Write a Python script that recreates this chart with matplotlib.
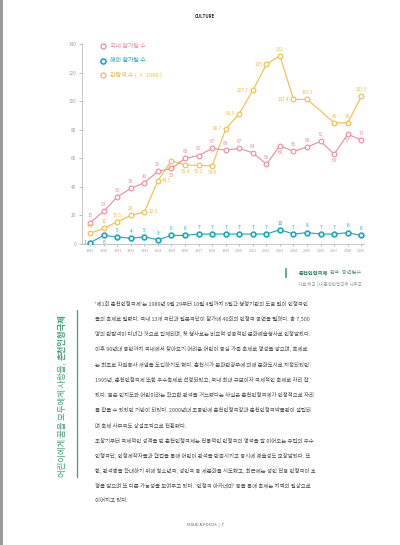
import matplotlib
matplotlib.use("Agg")

import matplotlib.pyplot as plt

plt.rcParams["font.family"] = ["Noto Sans CJK KR", "DejaVu Sans"]

# ── Data ─────────────────────────────────────────────────────────────
years = list(range(1989, 2010))
domestic = [15, 23, 33, 39, 43, 51, 53, 60, 62, 67, 66, 67, 64, 56, 69, 65, 68, 72, 63, 77, 73]
foreign = [1, 6, 5, 4, 5, 3, 6, 6, 7, 7, 7, 7, 7, 7, 10, 7, 8, 7, 7, 8, 6]
audience = [7.5, 11, 15.5, 20, 22.5, 44.5, 58.5, 55.4, 55.2, 54.8, 80.7, 91.5,
            107.7, 126, 132, 101.4, 101.5, None, 85, 85, 103.5]

series_names = ["국내 참가팀 수", "해외 참가팀 수", "관람객 수 ( × 1000 )"]
y_ticks = [0, 20, 40, 60, 80, 100, 120, 140]

# label placement per point: a = above, b = below, l = left, r = right
dom_pos = "aaaaaabaaaaaaabaaabba"
for_pos = "lbaaaaaaaaaaaaaaaaaaa"
aud_pos = "aaaarrbbbbllllalaxaaa"

body_lines = [
    "'제1회 춘천인형극제'는 1989년 9월 29부터 10월 4일까지 6일간 행정기관의 도움 없이 인형극인",
    "들의 축제로 열렸다. 국내 13개 극단과 일본극단이 참가해 40회의 인형극 공연을 펼쳤다. 총 7,500",
    "명의 관람객이 다녀간 것으로 집계되며, 첫 행사로는 비교적 성공적인 문화예술행사로 인정받았다.",
    "이후 90년대 중반까지 국내에서 찾아보기 어려운 어린이 중심 가족 축제로 명성을 쌓으며, 축제로",
    "는 최초로 자원봉사 개념을 도입하기도 했다. 춘천시가 문화관광부에 의해 문화도시로 지정되었던",
    "1995년, 춘천인형극제 또한 우수축제로 선정되었고, 국내 최대 규모이자 국제적인 축제로 자리 잡",
    "았다. 높은 인지도와 어린이라는 확고한 관객을 거느렸다는 사실은 춘천인형극제가 안정적으로 자리",
    "를 잡을 수 있었던 기반이 되었다. 2000년대 초중반에 춘천인형극장과 춘천인형극박물관이 설립되",
    "며 축제 사무국도 상설조직으로 전환됐다.",
    "초창기부터 국제적인 성격을 띤 춘천인형극제는 전통적인 인형극의 명맥을 잘 이어오는 유럽의 우수",
    "인형극단, 인형제작자들과 협업을 통해 어린이 관객을 만족시키고 동시에 예술성도 보장받았다. 또",
    "한, 관객층을 확대하기 위해 청소년극, 성인극 등 세분화를 시도했고, 최근에는 성인 전용 인형극이 호",
    "평을 받으며 또 다른 가능성을 보여주고 있다. '인형극 아카데미' 등을 통해 축제는 지역의 일상으로",
    "이어지고 있다.",
]

PINK = "#ea8c9c"
TEAL = "#1aa7b8"
GOLD = "#f1bd45"
GREEN = "#3f9f78"
W, H = 400, 545


def fx(x):
    return x / W


def fy(y):
    return 1 - y / H


fig = plt.figure(figsize=(4, 5.45), dpi=100)

# page border on the left
fig.add_artist(plt.Line2D([fx(1), fx(1)], [0, 1], color="#9a9a9a", lw=2.2))
fig.text(fx(205), fy(16), "CULTURE", fontsize=3.2, fontweight="bold",
         color="#333333", ha="center", va="center")

# ── Chart ────────────────────────────────────────────────────────────
ax = fig.add_axes([fx(82), fy(244), fx(364) - fx(82), fy(43) - fy(244)])
ax.set_xlim(1988.4, 2009.2)
ax.set_ylim(0, 141)
for side in ["top", "right"]:
    ax.spines[side].set_visible(False)
for side in ["left", "bottom"]:
    ax.spines[side].set_color("#bdbdbd")
    ax.spines[side].set_linewidth(0.6)
ax.set_yticks(y_ticks)
ax.set_xticks(years)
ax.set_xticklabels([str(y) for y in years])
ax.tick_params(axis="y", labelsize=3.4, colors="#a0a0a0", length=2, width=0.5, pad=2)
ax.tick_params(axis="x", labelsize=2.7, colors="#a0a0a0", length=1.5, width=0.5, pad=2)


def draw_series(vals, color, pos, ms, mew):
    xs = [y for y, v in zip(years, vals) if v is not None]
    ys = [v for v in vals if v is not None]
    ax.plot(xs, ys, color=color, lw=0.8, marker="o", ms=ms, mfc="white",
            mec=color, mew=mew, zorder=3)
    offs = {"a": (0, 3, "center", "bottom"), "b": (0, -3, "center", "top"),
            "l": (-3, 0, "right", "center"), "r": (3, 0, "left", "center")}
    for y, v, p in zip(years, vals, pos):
        if v is None or p == "x":
            continue
        dx, dy, ha, va = offs[p]
        ax.annotate(f"{v:g}", (y, v), xytext=(dx, dy), textcoords="offset points",
                    ha=ha, va=va, fontsize=3.4, color=color, zorder=4)


draw_series(audience, GOLD, aud_pos, 3.4, 0.8)
draw_series(domestic, PINK, dom_pos, 3.4, 0.8)
draw_series(foreign, TEAL, for_pos, 3.4, 1.2)

# legend
for i, (name, col) in enumerate(zip(series_names, [PINK, TEAL, GOLD])):
    yy = 46 + i * 14.5
    fig.add_artist(plt.Line2D([fx(103)], [fy(yy)], marker="o", ms=3.6, mfc="white",
                              mec=col, mew=1.2 if col == TEAL else 0.9))
    fig.text(fx(110), fy(yy), name, fontsize=4.3, color=col, ha="left", va="center")

# caption
cap2 = fig.text(fx(362), fy(273), "관객·공연팀수", fontsize=3.8, color="#6a9a86",
                ha="right", va="center")
fig.add_artist(plt.Line2D([fx(285.5), fx(285.5)], [fy(269), fy(277)], color=GREEN, lw=1.2))
fig.text(fx(362), fy(284), "자료 제공 (사)춘천인형극제 사무국", fontsize=3.2,
         color="#9a9a9a", ha="right", va="center")

# ── Vertical title ───────────────────────────────────────────────────
fig.add_artist(plt.Line2D([fx(77), fx(77)], [fy(310), fy(477)], color=GREEN, lw=0.9))
vt1 = fig.text(fx(62), fy(477), "어린이에게 꿈을 모두에게 사랑을, ", fontsize=6.0,
               color=GREEN, rotation=90, ha="center", va="bottom")

# ── Body text ────────────────────────────────────────────────────────
for i, line in enumerate(body_lines):
    fig.text(fx(95), fy(304 + i * 15.15), line, fontsize=3.9, color="#4d4d4d",
             ha="left", va="center")

fig.text(fx(205), fy(525), "ISSUE & FOCUS  |  7", fontsize=3.0, color="#555555",
         ha="center", va="center")

# bold parts placed after measuring their regular neighbours
fig.canvas.draw()
r = fig.canvas.get_renderer()
bb = cap2.get_window_extent(r)
fig.text(bb.x0 / fig.bbox.width - 0.004, fy(273), "춘천인형극제", fontsize=3.8,
         color="#2f7a5a", fontweight="bold", ha="right", va="center")
vb = vt1.get_window_extent(r)
fig.text(fx(62), vb.y1 / fig.bbox.height, "춘천인형극제", fontsize=6.0, color=GREEN,
         fontweight="bold", rotation=90, ha="center", va="bottom")

fig.savefig("out.png", dpi=100)
